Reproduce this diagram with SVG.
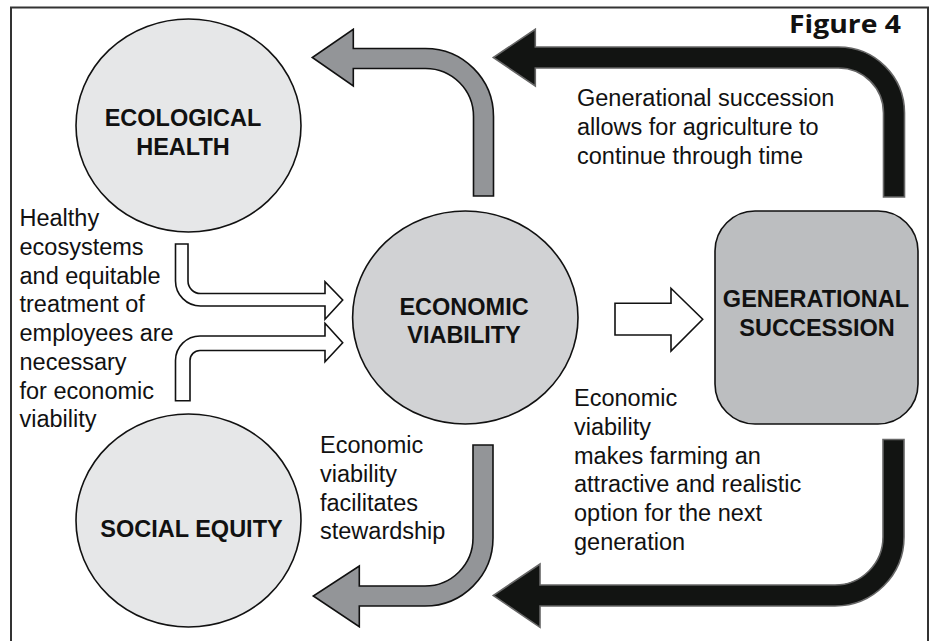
<svg xmlns="http://www.w3.org/2000/svg" width="932" height="641" viewBox="0 0 932 641">
<style>
.frame{fill:#fff;stroke:#333;stroke-width:2}
.node{stroke:#111;stroke-width:1.6}
.lbl{font-family:"Liberation Sans",Arial,sans-serif;font-weight:bold;font-size:23.5px;fill:#111;text-anchor:middle}
.txt{font-family:"Liberation Sans",Arial,sans-serif;font-size:23.5px;fill:#111}
.garrow{fill:#939598;stroke:#111;stroke-width:1.6;stroke-linejoin:miter}
.barrow{fill:#121412;stroke:#666;stroke-width:1.6;stroke-linejoin:miter}
.warrow{fill:#fff;stroke:#111;stroke-width:1.6;stroke-linejoin:miter}
</style>
<rect class="frame" x="11" y="7.5" width="917" height="700"/>
<text x="901" y="33" font-family="'Open Sans','Liberation Sans',sans-serif" font-weight="bold" font-size="25" fill="#111" text-anchor="end" textLength="112" lengthAdjust="spacingAndGlyphs">Figure 4</text>

<g id="connectors">
  <path id="econ-to-eco" class="garrow" d="M473.5,196 V116.5 A48,48 0 0 0 425.5,68.5 H353.3 V86 L312.3,57.5 L353.3,29.3 V48.5 H425.5 A68,68 0 0 1 493.5,116.5 V196 Z"/>
  <path id="gen-to-top" class="barrow" d="M883.5,197 V113 A45,45 0 0 0 838.5,68 H535.3 V86 L493.3,57.5 L535.3,29.3 V47 H838.5 A66,66 0 0 1 904.5,113 V197 Z"/>
  <path id="gen-to-bottom" class="barrow" d="M883,439.5 V537 A48,48 0 0 1 835,585 H540 V564 L493.3,595.5 L540,627.3 V606 H835 A69,69 0 0 0 904,537 V439.5 Z"/>
  <path id="econ-to-social" class="garrow" d="M473,445 V538 A48,48 0 0 1 425,586 H359.3 V566 L313.3,596 L359.3,626.7 V606 H425 A68,68 0 0 0 493,538 V445 Z"/>
  <path id="eco-to-econ" class="warrow" d="M175.5,244 V281 A25,25 0 0 0 200.5,306 H325 V319.3 L342.7,300 L325,281.7 V293.5 H200.5 A12.5,12.5 0 0 1 188,281 V244 Z"/>
  <path id="social-to-econ" class="warrow" d="M175.5,400.7 V360.5 A24.5,24.5 0 0 1 200,336 H325 V323.3 L342.7,342.7 L325,361.7 V350.5 H200 A10,10 0 0 0 190,360.5 V400.7 Z"/>
  <path id="econ-to-gen" class="warrow" d="M615,303.3 H671 V288.3 L702.7,319.3 L671,351 V335 H615 Z"/>
</g>

<g id="ecological-health">
  <ellipse class="node" cx="188.5" cy="125.5" rx="112.5" ry="106.5" fill="#e6e7e8"/>
  <text class="lbl" x="183" y="125.5">ECOLOGICAL</text>
  <text class="lbl" x="183" y="154.5">HEALTH</text>
</g>
<g id="economic-viability">
  <ellipse class="node" cx="465.3" cy="317.5" rx="112.7" ry="106.5" fill="#d1d2d4"/>
  <text class="lbl" x="464" y="314.5">ECONOMIC</text>
  <text class="lbl" x="464" y="343">VIABILITY</text>
</g>
<g id="generational-succession">
  <rect class="node" x="715" y="211" width="203" height="213" rx="40" ry="40" fill="#bcbec0"/>
  <text class="lbl" x="816" y="307">GENERATIONAL</text>
  <text class="lbl" x="817" y="335.7">SUCCESSION</text>
</g>
<g id="social-equity">
  <ellipse class="node" cx="188.5" cy="520.5" rx="112.5" ry="106.5" fill="#e6e7e8"/>
  <text class="lbl" x="191.5" y="536.7">SOCIAL EQUITY</text>
</g>

<g id="annotations">
  <text class="txt">
    <tspan x="577" y="106">Generational succession</tspan>
    <tspan x="577" y="135">allows for agriculture to</tspan>
    <tspan x="577" y="164">continue through time</tspan>
  </text>
  <text class="txt">
    <tspan x="19.5" y="225.5">Healthy</tspan>
    <tspan x="19.5" y="254.5">ecosystems</tspan>
    <tspan x="19.5" y="283.5">and equitable</tspan>
    <tspan x="19.5" y="312">treatment of</tspan>
    <tspan x="19.5" y="340.5">employees are</tspan>
    <tspan x="19.5" y="369.5">necessary</tspan>
    <tspan x="19.5" y="398.5">for economic</tspan>
    <tspan x="19.5" y="427">viability</tspan>
  </text>
  <text class="txt">
    <tspan x="320" y="453.3">Economic</tspan>
    <tspan x="320" y="482">viability</tspan>
    <tspan x="320" y="510.5">facilitates</tspan>
    <tspan x="320" y="539.3">stewardship</tspan>
  </text>
  <text class="txt">
    <tspan x="574" y="406">Economic</tspan>
    <tspan x="574" y="435">viability</tspan>
    <tspan x="574" y="463.5">makes farming an</tspan>
    <tspan x="574" y="492.3">attractive and realistic</tspan>
    <tspan x="574" y="521">option for the next</tspan>
    <tspan x="574" y="550">generation</tspan>
  </text>
</g>
</svg>
